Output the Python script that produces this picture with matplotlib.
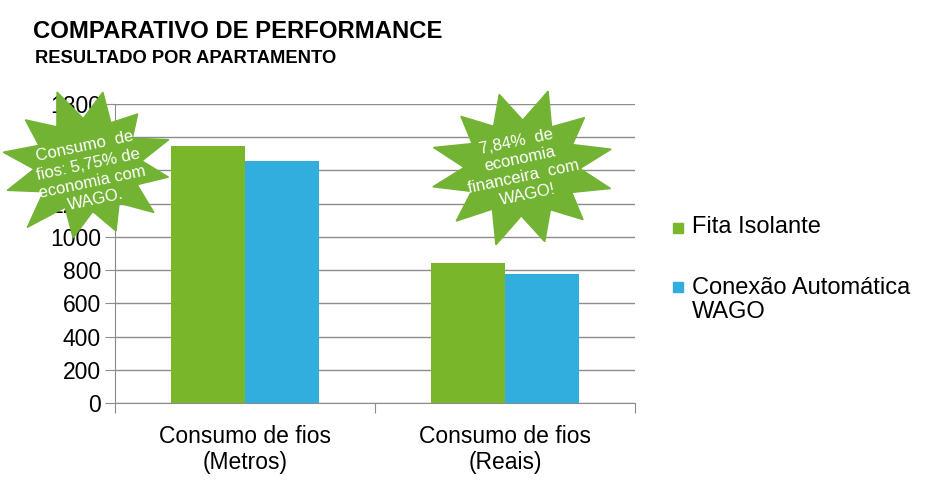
import numpy as np
import matplotlib
matplotlib.use("Agg")
import matplotlib.pyplot as plt
from matplotlib.patches import Polygon, Rectangle

categories = ["Consumo de fios\n(Metros)", "Consumo de fios\n(Reais)"]
series_names = ["Fita Isolante", "Conexão Automática\nWAGO"]
fita = [1547, 845]
wago = [1458, 779]
y_ticks = [0, 200, 400, 600, 800, 1000, 1200, 1400, 1600, 1800]
burst_texts = ["Consumo  de\nfios: 5,75% de\neconomia com\nWAGO.",
               "7,84%  de\neconomia\nfinanceira  com\nWAGO!"]

GREEN = "#79B62A"
BLUE = "#31AEDE"
STAR = "#72B333"
GRID = "#8C8C8C"
FONT = "Liberation Sans"

W, H = 929, 484
fig = plt.figure(figsize=(W / 100, H / 100), dpi=100)
ax = fig.add_axes([115 / W, 1 - 403 / H, 520 / W, 299 / H])

x = np.arange(len(categories))
bw = 0.285
ax.bar(x - bw / 2, fita, bw, color=GREEN, zorder=3)
ax.bar(x + bw / 2, wago, bw, color=BLUE, zorder=3)
ax.set_xlim(-0.5, len(categories) - 0.5)
ax.set_ylim(0, 1800)
ax.set_yticks(y_ticks)
ax.set_yticklabels([str(v) for v in y_ticks], fontsize=16.5, family=FONT)
ax.yaxis.grid(True, color=GRID, linewidth=1)
ax.set_axisbelow(True)
for s in ["top", "right"]:
    ax.spines[s].set_visible(False)
for s in ["left", "bottom"]:
    ax.spines[s].set_color(GRID)
ax.tick_params(axis="y", length=7, color=GRID, pad=3)
ax.set_xticks(np.arange(-0.5, len(categories), 1.0), minor=False)
ax.set_xticklabels([""] * (len(categories) + 1))
ax.tick_params(axis="x", length=7, color=GRID)
ax.set_xticks(x, minor=True)
ax.set_xticklabels(categories, minor=True, fontsize=16.5, family=FONT, linespacing=1.15)
ax.tick_params(axis="x", which="minor", length=0, pad=16)

# Title
fig.text(33 / W, 1 - 38 / H, "COMPARATIVO DE PERFORMANCE", fontsize=17.2, fontweight="bold",
         family=FONT, ha="left", va="baseline")
fig.text(35 / W, 1 - 63 / H, "RESULTADO POR APARTAMENTO", fontsize=13.2, fontweight="bold",
         family=FONT, ha="left", va="baseline")

# Legend
colors = [GREEN, BLUE]
sq_y = [228, 287]
txt_y = [227, 300]
for name, c, sy, ty in zip(series_names, colors, sq_y, txt_y):
    fig.patches.append(Rectangle((673 / W, 1 - (sy + 5) / H), 10 / W, 10 / H,
                                 transform=fig.transFigure, color=c))
    fig.text(692 / W, 1 - ty / H, name, fontsize=17, family=FONT, ha="left", va="center",
             linespacing=1.15)


def star(cx, cy, rx, ry, mults, inner=0.6, rot=0.0):
    n = len(mults)
    pts = []
    for i in range(n):
        a = rot + 2 * np.pi * i / n
        pts.append((cx + rx * mults[i] * np.cos(a), cy - ry * mults[i] * np.sin(a)))
        a2 = a + np.pi / n
        pts.append((cx + rx * inner * np.cos(a2), cy - ry * inner * np.sin(a2)))
    return [(px / W, 1 - py / H) for px, py in pts]


s1 = star(88, 165, 86, 74, [1.0, 0.9, 1.0, 1.05, 0.95, 1.0, 1.0, 1.1, 1.0, 0.95, 1.0, 0.95],
          inner=0.63, rot=0.35)
s2 = star(522, 168, 92, 76, [1.0, 0.95, 1.05, 1.0, 0.95, 1.0, 1.0, 1.0, 1.05, 1.0, 0.95, 1.0],
          inner=0.63, rot=0.25)
for s in [s1, s2]:
    fig.patches.append(Polygon(s, closed=True, transform=fig.transFigure, color=STAR, zorder=5))

fig.text(90 / W, 1 - 173 / H, burst_texts[0], fontsize=12, family=FONT, color="white",
         ha="center", va="center", rotation=12, rotation_mode="anchor", zorder=6, linespacing=1.25)
fig.text(522 / W, 1 - 168 / H, burst_texts[1], fontsize=12, family=FONT, color="white",
         ha="center", va="center", rotation=12, rotation_mode="anchor", zorder=6, linespacing=1.25)

fig.savefig("out.png", dpi=100)
